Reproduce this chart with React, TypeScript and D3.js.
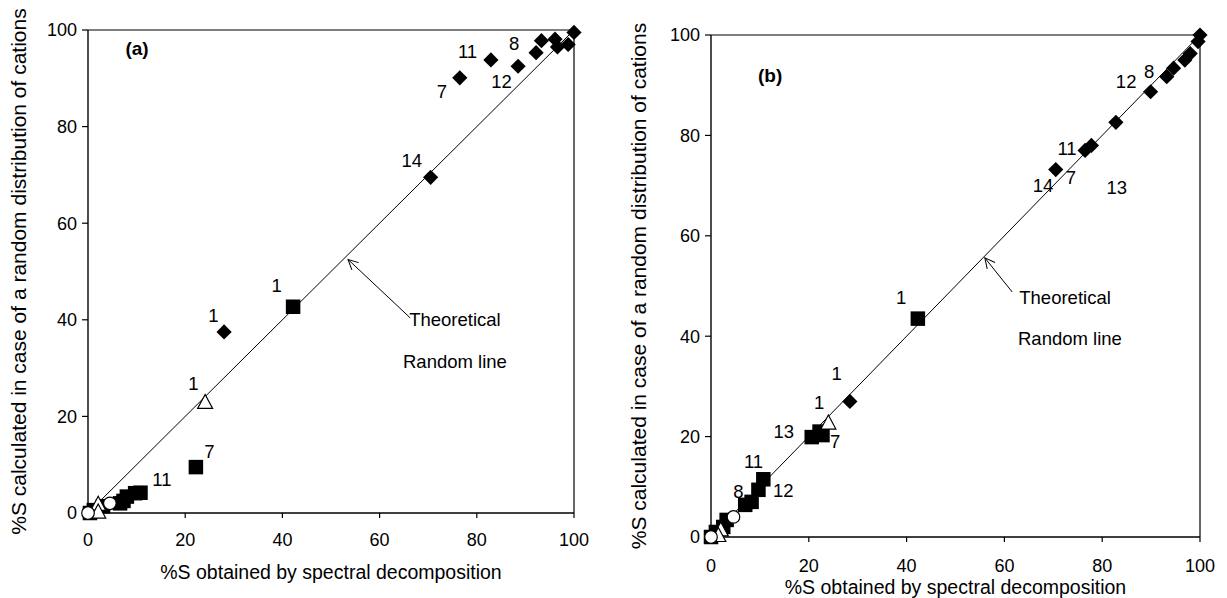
import React from "react";
import * as d3 from "d3";

// ---------- Panel (a) data ----------
const aDiamondX = [28, 70.5, 76.5, 82.9, 88.5, 92.2, 93.3, 96.1, 96.6, 98.8, 100];
const aDiamondY = [37.5, 69.5, 90.1, 93.8, 92.5, 95.3, 97.8, 98.1, 96.5, 97.0, 99.5];
const aSquareX = [42.2, 22.2, 10.8, 9.7, 8.0, 7.3, 6.6, 3.1, 1.2, 0.4];
const aSquareY = [42.7, 9.5, 4.2, 4.1, 3.4, 2.5, 2.0, 1.4, 0.6, 0.0];
const aTriangleX = [24.1, 2.1, 2.1];
const aTriangleY = [23.0, 1.9, 0.3];
const aCircleX = [4.5, 0.0];
const aCircleY = [2.0, 0.0];
const aLabelText = ["1", "1", "1", "7", "11", "7", "11", "12", "8", "14"];
const aLabelX = [25.8, 38.8, 21.7, 25.0, 15.2, 72.8, 78.1, 85.1, 87.7, 66.6];
const aLabelY = [41.0, 47.2, 26.9, 12.7, 7.0, 87.4, 95.5, 89.3, 97.2, 73.1];

// ---------- Panel (b) data ----------
const bDiamondX = [28.4, 70.5, 76.5, 77.8, 82.8, 89.9, 93.2, 94.6, 96.9, 98.0, 99.6, 100];
const bDiamondY = [27.0, 73.2, 77.0, 78.0, 82.6, 88.7, 91.7, 93.4, 95.0, 96.3, 98.7, 100];
const bSquareX = [42.3, 20.6, 22.2, 22.8, 10.7, 9.7, 8.3, 7.0, 3.2, 2.5, 1.0, 0.0];
const bSquareY = [43.5, 19.9, 21.0, 20.3, 11.5, 9.4, 7.0, 6.4, 3.4, 2.0, 1.0, 0.0];
const bTriangleX = [24.0, 2.0, 1.5];
const bTriangleY = [22.8, 1.5, 0.4];
const bCircleX = [4.6, 0.0];
const bCircleY = [4.0, 0.0];
const bLabelText = ["1", "1", "1", "13", "7", "11", "12", "8", "14", "7", "11", "13", "12", "8"];
const bLabelX = [38.9, 25.7, 22.1, 14.9, 25.4, 8.7, 14.8, 5.6, 67.9, 73.6, 72.8, 83.0, 84.9, 89.6];
const bLabelY = [47.8, 32.6, 26.8, 21.0, 19.0, 15.0, 9.2, 9.0, 70.1, 71.7, 77.5, 69.7, 90.8, 92.8];

// ---------- shared ----------
const tickValues = [0, 20, 40, 60, 80, 100];
const lineStart = [0, 0];
const lineEnd = [100, 100];
const xTitle = "%S obtained by spectral decomposition";
const yTitle = "%S calculated in case of a random distribution of cations";
const annoLine1 = "Theoretical";
const annoLine2 = "Random line";

const FONT = "'Liberation Sans', Arial, Helvetica, sans-serif";

type PanelProps = {
  left: number; right: number; top: number; bottom: number;
  dX: number[]; dY: number[]; sX: number[]; sY: number[];
  tX: number[]; tY: number[]; cX: number[]; cY: number[];
  lText: string[]; lX: number[]; lY: number[];
  tag: string; tagPos: [number, number];
  arrowTail: [number, number]; arrowTip: [number, number];
  anno1: [number, number]; anno2: [number, number];
  xTickY: number; xTitleY: number; yTitleX: number; id: string;
};

function Panel(p: PanelProps) {
  const x = d3.scaleLinear().domain([0, 100]).range([p.left, p.right]);
  const y = d3.scaleLinear().domain([0, 100]).range([p.bottom, p.top]);
  const sq = 14.5;
  const dm = 7.6;
  const triPath = (cx: number, cy: number) => {
    const h = 13, w = 15;
    return `M${cx},${cy - h / 2 - 1}L${cx + w / 2},${cy + h / 2}L${cx - w / 2},${cy + h / 2}Z`;
  };
  const lineGen = d3.line<number[]>().x((d) => x(d[0])).y((d) => y(d[1]));
  return (
    <g fontFamily={FONT}>
      <defs>
        <marker id={`arr${p.id}`} viewBox="0 0 12 12" refX="11" refY="6" markerWidth="12" markerHeight="12" orient="auto" markerUnits="userSpaceOnUse">
          <path d="M1,1L11,6L1,11" fill="none" stroke="#000" strokeWidth={1} />
        </marker>
      </defs>
      <line x1={p.left} x2={p.right} y1={p.top} y2={p.top} stroke="#000" strokeWidth={1.2} />
      <line x1={p.right} x2={p.right} y1={p.top} y2={p.bottom} stroke="#000" strokeWidth={1.2} />
      <line x1={p.left} x2={p.left} y1={p.top} y2={p.bottom} stroke="#000" strokeWidth={1.4} />
      <line x1={p.left} x2={p.right} y1={p.bottom} y2={p.bottom} stroke="#000" strokeWidth={1.6} />
      {tickValues.map((t) => (
        <g key={`yt${t}`}>
          <line x1={p.left - 6} x2={p.left} y1={y(t)} y2={y(t)} stroke="#000" strokeWidth={1.2} />
          <text x={p.left - 11} y={y(t)} dy="0.36em" textAnchor="end" fontSize={18}>{t}</text>
        </g>
      ))}
      {tickValues.map((t) => (
        <g key={`xt${t}`}>
          <line x1={x(t)} x2={x(t)} y1={p.bottom} y2={p.bottom + 5} stroke="#000" strokeWidth={1.2} />
          <text x={x(t)} y={p.xTickY} dy="0.36em" textAnchor="middle" fontSize={18}>{t}</text>
        </g>
      ))}
      <text x={(p.left + p.right) / 2} y={p.xTitleY} dy="0.36em" textAnchor="middle" fontSize={19.5}>{xTitle}</text>
      <text transform={`translate(${p.yTitleX},${(p.top + p.bottom) / 2}) rotate(-90)`} dy="0.36em" textAnchor="middle" fontSize={21}>{yTitle}</text>
      <path d={lineGen([lineStart, lineEnd]) || ""} stroke="#000" strokeWidth={1} fill="none" />
      {p.sX.map((v, i) => (
        <rect key={`s${i}`} x={x(v) - sq / 2} y={y(p.sY[i]) - sq / 2} width={sq} height={sq} fill="#000" />
      ))}
      {p.dX.map((v, i) => (
        <path key={`d${i}`} d={`M${x(v)},${y(p.dY[i]) - dm}L${x(v) + dm},${y(p.dY[i])}L${x(v)},${y(p.dY[i]) + dm}L${x(v) - dm},${y(p.dY[i])}Z`} fill="#000" />
      ))}
      {p.tX.map((v, i) => (
        <path key={`t${i}`} d={triPath(x(v), y(p.tY[i]))} fill="#fff" stroke="#000" strokeWidth={1.2} />
      ))}
      {p.cX.map((v, i) => (
        <circle key={`c${i}`} cx={x(v)} cy={y(p.cY[i])} r={6.3} fill="#fff" stroke="#000" strokeWidth={1.2} />
      ))}
      {p.lText.map((t, i) => (
        <text key={`l${i}`} x={x(p.lX[i])} y={y(p.lY[i])} dy="0.36em" textAnchor="middle" fontSize={18.5}>{t}</text>
      ))}
      <line x1={x(p.arrowTail[0])} y1={y(p.arrowTail[1])} x2={x(p.arrowTip[0])} y2={y(p.arrowTip[1])} stroke="#000" strokeWidth={1} markerEnd={`url(#arr${p.id})`} />
      <text x={x(p.anno1[0])} y={y(p.anno1[1])} dy="0.36em" textAnchor="middle" fontSize={18.5}>{annoLine1}</text>
      <text x={x(p.anno2[0])} y={y(p.anno2[1])} dy="0.36em" textAnchor="middle" fontSize={18.5}>{annoLine2}</text>
      <text x={x(p.tagPos[0])} y={y(p.tagPos[1])} dy="0.36em" textAnchor="middle" fontSize={19} fontWeight="bold">{p.tag}</text>
    </g>
  );
}

export default function App() {
  return (
    <svg width={1227} height={598} style={{ position: "absolute", left: 0, top: 0, background: "#fff" }}>
      <rect width={1227} height={598} fill="#fff" />
      <Panel id="a" left={88} right={574} top={30} bottom={513}
        dX={aDiamondX} dY={aDiamondY} sX={aSquareX} sY={aSquareY}
        tX={aTriangleX} tY={aTriangleY} cX={aCircleX} cY={aCircleY}
        lText={aLabelText} lX={aLabelX} lY={aLabelY}
        tag="(a)" tagPos={[10.1, 96.3]}
        arrowTail={[66.3, 40.4]} arrowTip={[53.5, 52.5]}
        anno1={[75.5, 40]} anno2={[75.5, 31.3]}
        xTickY={540} xTitleY={572} yTitleX={18} />
      <Panel id="b" left={711} right={1200} top={35} bottom={537}
        dX={bDiamondX} dY={bDiamondY} sX={bSquareX} sY={bSquareY}
        tX={bTriangleX} tY={bTriangleY} cX={bCircleX} cY={bCircleY}
        lText={bLabelText} lX={bLabelX} lY={bLabelY}
        tag="(b)" tagPos={[12.1, 92]}
        arrowTail={[61.6, 48.8]} arrowTip={[56, 55.6]}
        anno1={[72.4, 47.8]} anno2={[73.4, 39.6]}
        xTickY={566} xTitleY={586.5} yTitleX={638} />
    </svg>
  );
}
